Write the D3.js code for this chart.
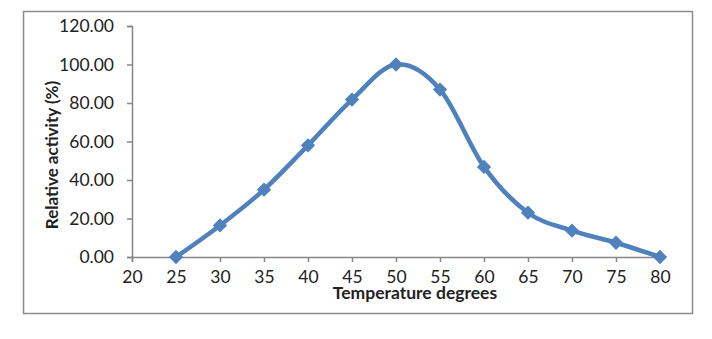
<!DOCTYPE html>
<html>
<head>
<meta charset="utf-8">
<script src="https://cdn.jsdelivr.net/npm/d3@7"></script>
<style>
  html, body { margin: 0; padding: 0; background: #fff; }
  svg { display: block; }
  text { font-family: Lato, "Open Sans", sans-serif; fill: #222; }
</style>
</head>
<body>
<svg id="chart" width="712" height="339"></svg>
<script>
// Enzyme relative activity versus temperature
const temperatures = [25, 30, 35, 40, 45, 50, 55, 60, 65, 70, 75, 80];
const activity = [0, 16.4, 35.0, 58.0, 81.8, 100, 87.0, 46.8, 23.0, 13.7, 7.4, 0];
const xTicks = [20, 25, 30, 35, 40, 45, 50, 55, 60, 65, 70, 75, 80];
const yTicks = [0, 20, 40, 60, 80, 100, 120];

const svg = d3.select("#chart");
const lineColor = "#4F81BD";
const axisColor = "#868686";

// outer chart frame
svg.append("rect")
  .attr("x", 23.5).attr("y", 11.5)
  .attr("width", 669).attr("height", 302)
  .attr("fill", "#fff")
  .attr("stroke", "#8c8c8c").attr("stroke-width", 1.5);

const x = d3.scaleLinear().domain([20, 80]).range([132, 660]);
const y = d3.scaleLinear().domain([0, 120]).range([257, 26]);

// y axis
const yAxis = svg.append("g")
  .attr("transform", `translate(${x(20)},0)`)
  .call(d3.axisLeft(y).tickValues(yTicks).tickFormat(d3.format(".2f")).tickSize(5).tickPadding(13));

// x axis
const xAxis = svg.append("g")
  .attr("transform", `translate(0,${y(0)})`)
  .call(d3.axisBottom(x).tickValues(xTicks).tickFormat(d3.format("d")).tickSize(5).tickPadding(9));

[yAxis, xAxis].forEach(g => {
  g.select(".domain").attr("stroke", axisColor).attr("stroke-width", 1.5);
  g.selectAll(".tick line").attr("stroke", axisColor).attr("stroke-width", 1.5);
  g.selectAll(".tick text")
    .attr("font-family", "Lato, 'Open Sans', sans-serif")
    .attr("font-size", 17.5)
    .attr("fill", "#222");
});

// axis titles
svg.append("text")
  .attr("x", 415).attr("y", 299)
  .attr("text-anchor", "middle")
  .attr("font-size", 17.5).attr("font-weight", "bold")
  .text("Temperature degrees");

svg.append("text")
  .attr("transform", "translate(58,155) rotate(-90)")
  .attr("text-anchor", "middle")
  .attr("font-size", 17).attr("font-weight", "bold")
  .text("Relative activity (%)");

// smoothed series line
const pts = temperatures.map((t, i) => [t, activity[i]]);
const line = d3.line()
  .x(d => x(d[0]))
  .y(d => y(d[1]))
  .curve(d3.curveCardinal.tension(0));

svg.append("path")
  .datum(pts)
  .attr("d", line)
  .attr("fill", "none")
  .attr("stroke", lineColor)
  .attr("stroke-width", 4.5)
  .attr("stroke-linejoin", "round");

// diamond markers
svg.append("g")
  .selectAll("path")
  .data(pts)
  .join("path")
  .attr("transform", d => `translate(${x(d[0])},${y(d[1])})`)
  .attr("d", d3.symbol(d3.symbolDiamond2, 130)())
  .attr("fill", lineColor);
</script>
</body>
</html>
